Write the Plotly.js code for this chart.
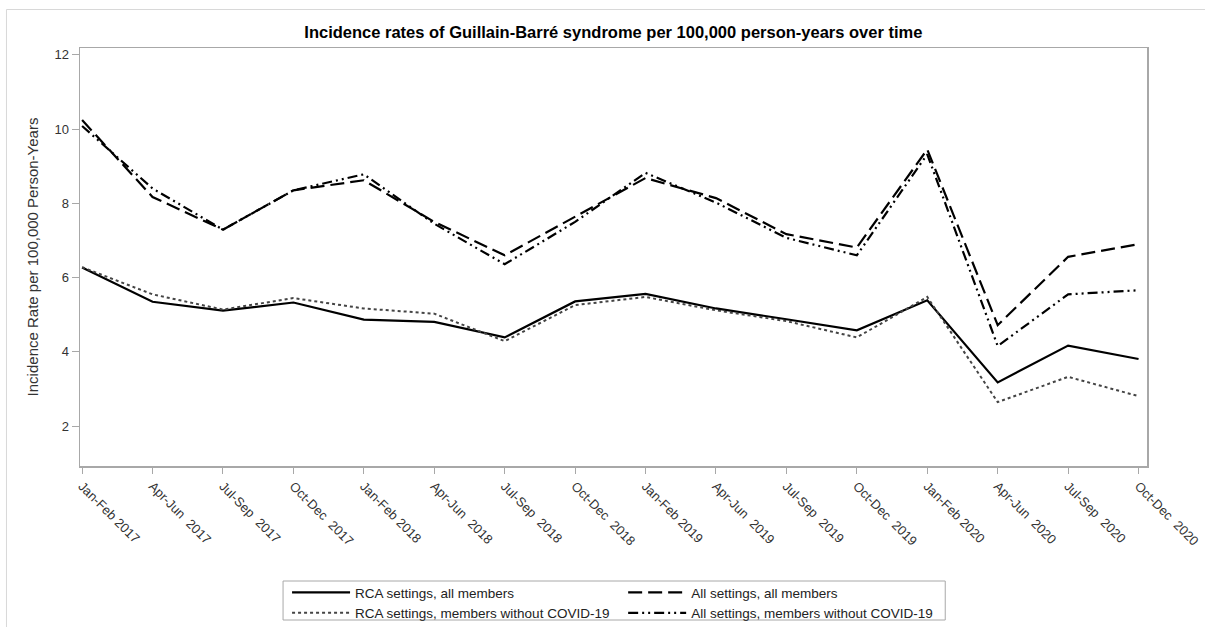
<!DOCTYPE html>
<html>
<head>
<meta charset="utf-8">
<script src="https://cdn.plot.ly/plotly-3.0.1.min.js"></script>
<style>
  html, body { margin: 0; padding: 0; background: #ffffff; }
  #chart { width: 1205px; height: 627px; }
</style>
</head>
<body>
<div id="chart"></div>
<script>
// Period categories (x axis)
const periods = [
  "Jan-Feb 2017", "Apr-Jun\u00a0 2017", "Jul-Sep\u00a0 2017", "Oct-Dec\u00a0 2017",
  "Jan-Feb 2018", "Apr-Jun\u00a0 2018", "Jul-Sep\u00a0 2018", "Oct-Dec\u00a0 2018",
  "Jan-Feb 2019", "Apr-Jun\u00a0 2019", "Jul-Sep\u00a0 2019", "Oct-Dec\u00a0 2019",
  "Jan-Feb 2020", "Apr-Jun\u00a0 2020", "Jul-Sep\u00a0 2020", "Oct-Dec\u00a0 2020"
];

// Incidence rates per 100,000 person-years
const rcaAll      = [6.27, 5.35, 5.11, 5.33, 4.87, 4.81, 4.39, 5.36, 5.56, 5.17, 4.88, 4.58, 5.39, 3.18, 4.17, 3.81];
const rcaNoCovid  = [6.28, 5.55, 5.14, 5.45, 5.17, 5.03, 4.29, 5.26, 5.48, 5.12, 4.83, 4.39, 5.48, 2.65, 3.33, 2.81];
const allAll      = [10.24, 8.17, 7.29, 8.35, 8.62, 7.50, 6.60, 7.63, 8.68, 8.14, 7.17, 6.81, 9.45, 4.72, 6.56, 6.90];
const allNoCovid  = [10.08, 8.40, 7.29, 8.35, 8.78, 7.45, 6.36, 7.50, 8.82, 8.02, 7.07, 6.60, 9.32, 4.16, 5.55, 5.66];

// Legend names
const names = [
  "RCA settings, all members",
  "RCA settings, members without COVID-19",
  "All settings, all members",
  "All settings, members without COVID-19"
];

const yTicks = [2, 4, 6, 8, 10, 12];

const traces = [
  { x: periods, y: rcaAll, name: names[0], type: "scatter", mode: "lines",
    line: { color: "#000000", width: 2.2, dash: "solid" }, legend: "legend" },
  { x: periods, y: rcaNoCovid, name: names[1], type: "scatter", mode: "lines",
    line: { color: "#444444", width: 2, dash: "dot" }, legend: "legend" },
  { x: periods, y: allAll, name: names[2], type: "scatter", mode: "lines",
    line: { color: "#000000", width: 2.2, dash: "14px,6px" }, legend: "legend2" },
  { x: periods, y: allNoCovid, name: names[3], type: "scatter", mode: "lines",
    line: { color: "#000000", width: 2.2, dash: "10px,4px,2px,4px,2px,4px" }, legend: "legend2" }
];

// plot area in pixels: left 80, right 1146.7, top 48, bottom 466
const L = 80, R = 1146.7, T = 48, B = 466;
const PW = R - L, PH = B - T;
const px = v => (v - L) / PW;
const py = v => (B - v) / PH;

const font = "Arial, 'Liberation Sans', sans-serif";

const layout = {
  width: 1205, height: 627,
  margin: { l: L, r: 1205 - R, t: T, b: 627 - B, pad: 0, autoexpand: false },
  paper_bgcolor: "rgba(0,0,0,0)",
  plot_bgcolor: "#ffffff",
  font: { family: font, size: 12, color: "#333333" },
  title: {
    text: "<b>Incidence rates of Guillain-Barré syndrome per 100,000 person-years over time</b>",
    font: { family: font, size: 16.5, color: "#000000" },
    x: (L + R) / 2 / 1205, xanchor: "center",
    y: 1 - 32 / 627, yanchor: "middle"
  },
  xaxis: {
    type: "category",
    range: [-0.03, 15.12],
    showgrid: false, zeroline: false,
    showline: true, linecolor: "#a8a8a8", linewidth: 1.5, mirror: true,
    ticks: "outside", ticklen: 6, tickwidth: 1, tickcolor: "#a8a8a8",
    tickangle: 45,
    tickfont: { family: font, size: 13, color: "#333333" },
    automargin: false
  },
  yaxis: {
    range: [0.93, 12.18],
    tickvals: yTicks,
    ticktext: yTicks.map(String),
    showgrid: false, zeroline: false,
    showline: true, linecolor: "#a8a8a8", linewidth: 1.5, mirror: true,
    ticks: "outside", ticklen: 7, tickwidth: 1, tickcolor: "#a8a8a8",
    tickfont: { family: font, size: 13, color: "#333333" },
    title: { text: "Incidence Rate per 100,000 Person-Years",
             font: { family: font, size: 15, color: "#333333" }, standoff: 12 },
    automargin: false
  },
  legend: {
    x: px(287), y: py(577), xanchor: "left", yanchor: "top",
    orientation: "v", bgcolor: "rgba(0,0,0,0)", borderwidth: 0,
    font: { family: font, size: 13.5, color: "#222222" },
    itemwidth: 58, tracegroupgap: 0
  },
  legend2: {
    x: px(623), y: py(577), xanchor: "left", yanchor: "top",
    orientation: "v", bgcolor: "rgba(0,0,0,0)", borderwidth: 0,
    font: { family: font, size: 13.5, color: "#222222" },
    itemwidth: 58, tracegroupgap: 0
  },
  showlegend: true,
  shapes: [
    { type: "rect", xref: "paper", yref: "paper",
      x0: px(283), x1: px(945), y0: py(581), y1: py(620),
      line: { color: "#a8a8a8", width: 1 }, fillcolor: "rgba(0,0,0,0)" },
    { type: "rect", xref: "paper", yref: "paper",
      x0: px(6.5), x1: px(1215), y0: py(9.5), y1: py(640),
      line: { color: "#d8d8d8", width: 1 }, fillcolor: "rgba(0,0,0,0)", layer: "below" }
  ]
};

Plotly.newPlot("chart", traces, layout, { displayModeBar: false, staticPlot: true });
</script>
</body>
</html>
